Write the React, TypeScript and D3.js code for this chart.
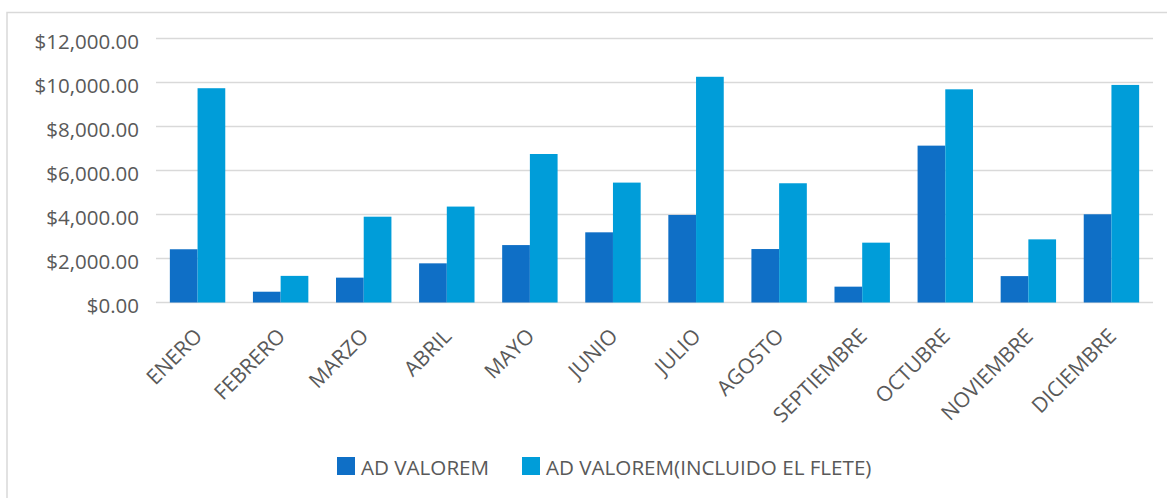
import React, { useEffect, useRef } from 'react';
import * as d3 from 'd3';

const months = ['ENERO', 'FEBRERO', 'MARZO', 'ABRIL', 'MAYO', 'JUNIO', 'JULIO', 'AGOSTO', 'SEPTIEMBRE', 'OCTUBRE', 'NOVIEMBRE', 'DICIEMBRE'];
const adValorem = [2420, 490, 1130, 1780, 2610, 3190, 3980, 2430, 720, 7130, 1200, 4010];
const adValoremFlete = [9740, 1210, 3900, 4360, 6750, 5450, 10260, 5420, 2720, 9690, 2870, 9890];
const yTicks = [0, 2000, 4000, 6000, 8000, 10000, 12000];
const seriesNames = ['AD VALOREM', 'AD VALOREM(INCLUIDO EL FLETE)'];
const colors = ['#0F6FC6', '#009DD9'];

const App = () => {
  const svgRef = useRef<SVGSVGElement>(null);

  useEffect(() => {
    const svg = d3.select(svgRef.current);
    svg.selectAll('*').remove();
    const width = 1167;
    const height = 498;
    const margin = { top: 38.5, right: 14, bottom: 195.5, left: 156 };
    const innerWidth = width - margin.left - margin.right;
    const innerHeight = height - margin.top - margin.bottom;
    const font = '"Open Sans", sans-serif';
    const textColor = '#595959';

    // frame
    svg.append('rect')
      .attr('x', 7)
      .attr('y', 12.5)
      .attr('width', 1300)
      .attr('height', 700)
      .attr('fill', '#fff')
      .attr('stroke', '#d9d9d9')
      .attr('stroke-width', 1.5);

    const x = d3.scaleBand().domain(months).range([0, innerWidth]).paddingInner(0.333).paddingOuter(0.1667);
    const xSub = d3.scaleBand().domain(['0', '1']).range([0, x.bandwidth()]);
    const y = d3.scaleLinear().domain([0, 12000]).range([innerHeight, 0]);

    const g = svg.append('g').attr('transform', `translate(${margin.left},${margin.top})`);

    // grid lines
    g.append('g')
      .selectAll('line')
      .data(yTicks)
      .enter()
      .append('line')
      .attr('x1', 0)
      .attr('x2', innerWidth)
      .attr('y1', d => y(d))
      .attr('y2', d => y(d))
      .attr('stroke', '#d9d9d9')
      .attr('stroke-width', 1.5);

    // y labels
    const fmt = d3.format('$,.2f');
    g.append('g')
      .selectAll('text')
      .data(yTicks)
      .enter()
      .append('text')
      .attr('x', -17)
      .attr('y', d => y(d) + 10)
      .attr('text-anchor', 'end')
      .attr('font-family', font)
      .attr('font-size', 20.5)
      .attr('fill', textColor)
      .text(d => fmt(d));

    // bars
    [adValorem, adValoremFlete].forEach((vals, si) => {
      g.append('g')
        .selectAll('rect')
        .data(vals)
        .enter()
        .append('rect')
        .attr('x', (d, i) => (x(months[i]) as number) + (xSub(String(si)) as number))
        .attr('y', d => y(d))
        .attr('width', xSub.bandwidth())
        .attr('height', d => innerHeight - y(d))
        .attr('fill', colors[si]);
    });

    // x labels
    g.append('g')
      .selectAll('text')
      .data(months)
      .enter()
      .append('text')
      .attr('transform', d => `translate(${(x(d) as number) + x.bandwidth() / 2 + 6},${innerHeight + 35}) rotate(-45)`)
      .attr('text-anchor', 'end')
      .attr('font-family', font)
      .attr('font-size', 21)
      .attr('fill', textColor)
      .text(d => d);

    // legend
    const legendX = [337, 522];
    seriesNames.forEach((name, i) => {
      svg.append('rect')
        .attr('x', legendX[i])
        .attr('y', 457)
        .attr('width', 18)
        .attr('height', 18)
        .attr('fill', colors[i]);
      svg.append('text')
        .attr('x', legendX[i] + 24)
        .attr('y', 475)
        .attr('font-family', font)
        .attr('font-size', 20.6)
        .attr('fill', textColor)
        .text(name);
    });
  }, []);

  return (
    <svg ref={svgRef} width={1167} height={498} style={{ position: 'absolute', left: 0, top: 0 }}></svg>
  );
};

export default App;
